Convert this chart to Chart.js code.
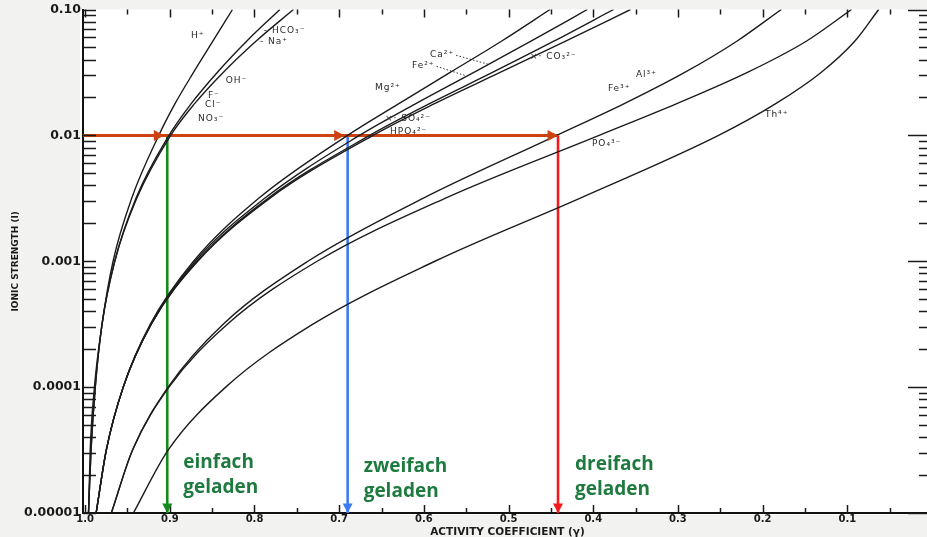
<!DOCTYPE html>
<html><head><meta charset="utf-8">
<script src="https://cdn.jsdelivr.net/npm/chart.js@4/dist/chart.umd.min.js"></script>
<style>
html,body{margin:0;padding:0;background:#f2f2f0;overflow:hidden;width:927px;height:537px}
canvas{display:block}
</style></head><body>
<canvas id="c" width="932" height="537"></canvas>
<script>
// ---- data ----
const ionicStrength = [0.00001, 0.00003162, 0.0001, 0.0003162, 0.001, 0.003162, 0.01, 0.01778, 0.03162, 0.05623, 0.1];
const curveNames = ["H⁺", "HCO₃⁻, Na⁺", "OH⁻, F⁻, Cl⁻, NO₃⁻", "Mg²⁺", "Ca²⁺, Fe²⁺", "CO₃²⁻", "SO₄²⁻, HPO₄²⁻", "Al³⁺, Fe³⁺", "PO₄³⁻", "Th⁴⁺"];
const gammaH     = [0.996, 0.994, 0.989, 0.980, 0.967, 0.945, 0.913, 0.894, 0.872, 0.849, 0.826];
const gammaHCO3  = [0.996, 0.993, 0.988, 0.980, 0.965, 0.940, 0.901, 0.875, 0.844, 0.809, 0.770];
const gammaCl    = [0.996, 0.993, 0.988, 0.980, 0.965, 0.939, 0.899, 0.871, 0.837, 0.798, 0.754];
const gammaMg    = [0.987, 0.975, 0.955, 0.923, 0.872, 0.795, 0.690, 0.630, 0.569, 0.508, 0.451];
const gammaCa    = [0.987, 0.975, 0.955, 0.922, 0.870, 0.788, 0.676, 0.610, 0.541, 0.473, 0.407];
const gammaCO3   = [0.987, 0.975, 0.955, 0.922, 0.868, 0.784, 0.664, 0.594, 0.519, 0.446, 0.376];
const gammaSO4   = [0.987, 0.975, 0.955, 0.922, 0.867, 0.782, 0.660, 0.588, 0.510, 0.432, 0.356];
const gammaAl    = [0.969, 0.944, 0.902, 0.837, 0.737, 0.601, 0.443, 0.364, 0.292, 0.230, 0.178];
const gammaPO4   = [0.969, 0.944, 0.901, 0.832, 0.726, 0.575, 0.393, 0.302, 0.218, 0.148, 0.095];
const gammaTh    = [0.943, 0.902, 0.834, 0.731, 0.587, 0.416, 0.252, 0.185, 0.131, 0.091, 0.063];
const curveGammas = [gammaH, gammaHCO3, gammaCl, gammaMg, gammaCa, gammaCO3, gammaSO4, gammaAl, gammaPO4, gammaTh];

// reading at I = 0.01 for the three charge groups
const refStrength = 0.01;
const arrowGamma = [0.903, 0.690, 0.4416];
const chargeLabels = [["einfach", "geladen"], ["zweifach", "geladen"], ["dreifach", "geladen"]];
const arrowColors = ["#14891c", "#3d7bf2", "#f21a1a"];

// ticks
const xTickValues = [1.0, 0.9, 0.8, 0.7, 0.6, 0.5, 0.4, 0.3, 0.2, 0.1];
const xTickLabels = ["1.0", "0.9", "0.8", "0.7", "0.6", "0.5", "0.4", "0.3", "0.2", "0.1"];
const xMinorTicks = [0.95, 0.85, 0.75, 0.65, 0.55, 0.45, 0.35, 0.25, 0.15, 0.05];
const yTickValues = [0.00001, 0.0001, 0.001, 0.01, 0.1];
const yTickLabels = ["0.00001", "0.0001", "0.001", "0.01", "0.10"];
const yMinorMultipliers = [2, 3, 4, 5, 6, 7, 8, 9];

// ---- datasets ----
const datasets = curveGammas.map((g, k) => ({
  label: curveNames[k],
  data: g.map((v, i) => ({x: v, y: ionicStrength[i]})),
  showLine: true,
  borderColor: '#1c1c1c',
  borderWidth: 1.4,
  pointRadius: 0,
  cubicInterpolationMode: 'monotone',
  fill: false
}));
datasets.push({
  label: 'I = 0.01',
  data: [{x: 1.0025, y: refStrength}, {x: arrowGamma[2], y: refStrength}],
  showLine: true, borderColor: '#cd4210', borderWidth: 3, pointRadius: 0
});
arrowGamma.forEach((g, i) => datasets.push({
  label: chargeLabels[i].join(' '),
  data: [{x: g, y: refStrength}, {x: g, y: 0.00001}],
  showLine: true, borderColor: arrowColors[i], borderWidth: 2.6, pointRadius: 0
}));

const ionLabels = [
  ["H⁺", 0.875, 0.0622], ["- HCO₃⁻", 0.789, 0.0682], ["- Na⁺", 0.7935, 0.0558],
  ["OH⁻", 0.834, 0.0274], ["F⁻", 0.855, 0.0205], ["Cl⁻", 0.8585, 0.0174], ["NO₃⁻", 0.8667, 0.0137],
  ["Ca²⁺", 0.5928, 0.0441, 32], ["Fe²⁺", 0.614, 0.0360, 28], ["Mg²⁺", 0.6578, 0.0241],
  ["×· CO₃²⁻", 0.4748, 0.0425], ["×· SO₄²⁻", 0.646, 0.0137], ["HPO₄²⁻", 0.640, 0.0108],
  ["Al³⁺", 0.3496, 0.0305], ["Fe³⁺", 0.3827, 0.0237], ["PO₄³⁻", 0.4016, 0.00853], ["Th⁴⁺", 0.1973, 0.0147]
];

function tri(ctx, x, y, dir, color, s) {
  ctx.fillStyle = color;
  ctx.beginPath();
  if (dir === 'right') { ctx.moveTo(x, y); ctx.lineTo(x - s * 1.9, y - s); ctx.lineTo(x - s * 1.9, y + s); }
  else { ctx.moveTo(x, y); ctx.lineTo(x - s, y - s * 1.9); ctx.lineTo(x + s, y - s * 1.9); }
  ctx.closePath(); ctx.fill();
}

const decor = {
  id: 'decor',
  beforeDraw(chart) {
    const {ctx, chartArea: a} = chart;
    ctx.save();
    ctx.fillStyle = '#f2f2f0';
    ctx.fillRect(0, 0, chart.width, chart.height);
    ctx.fillStyle = '#ffffff';
    ctx.fillRect(a.left - 3, a.top, a.right - a.left + 3, a.bottom - a.top + 2);
    ctx.restore();
  },
  afterDatasetsDraw(chart) {
    const {ctx, chartArea: a, scales: {x, y}} = chart;
    ctx.save();
    // inner ticks
    ctx.strokeStyle = '#1a1a1a';
    ctx.lineWidth = 1.5;
    const yAll = [];
    yTickValues.forEach(v => yAll.push([v, true]));
    yTickValues.slice(0, -1).forEach(d => yMinorMultipliers.forEach(m => yAll.push([m * d, false])));
    yAll.forEach(([v, major]) => {
      const py = Math.round(y.getPixelForValue(v)) + 0.5;
      ctx.beginPath();
      ctx.moveTo(a.left, py); ctx.lineTo(a.left + 13, py);
      ctx.moveTo(a.right, py); ctx.lineTo(a.right - (major ? 24 : 13), py);
      ctx.stroke();
    });
    const xAll = xTickValues.map(v => [v, true]).concat(xMinorTicks.map(v => [v, false]));
    xAll.forEach(([v, major]) => {
      const px = Math.round(x.getPixelForValue(v)) + 0.5;
      ctx.beginPath();
      ctx.moveTo(px, a.bottom); ctx.lineTo(px, a.bottom - (major ? 8 : 5));
      ctx.moveTo(px, a.top); ctx.lineTo(px, a.top + (major ? 8 : 5));
      ctx.stroke();
    });
    // arrow heads
    const py0 = y.getPixelForValue(refStrength);
    arrowGamma.forEach((g, i) => {
      const px = x.getPixelForValue(g);
      tri(ctx, px - (i < 2 ? 3 : 0), py0, 'right', '#cd4210', 5.5);
      tri(ctx, px, a.bottom, 'down', arrowColors[i], 5);
    });
    // ion labels
    ctx.fillStyle = '#2a2a2a';
    ctx.font = '9px "DejaVu Sans"';
    if ('letterSpacing' in ctx) ctx.letterSpacing = '1px';
    ctx.textBaseline = 'middle';
    ctx.textAlign = 'left';
    ionLabels.forEach(([t, g, I, lead]) => {
      const px = x.getPixelForValue(g), py = y.getPixelForValue(I);
      ctx.fillText(t, px, py);
      if (lead) {
        const w = ctx.measureText(t).width;
        ctx.save();
        ctx.setLineDash([1.5, 2]);
        ctx.strokeStyle = '#333'; ctx.lineWidth = 1;
        ctx.beginPath(); ctx.moveTo(px + w + 2, py + 1); ctx.lineTo(px + w + 2 + lead, py + 10); ctx.stroke();
        ctx.restore();
      }
    });
    if ('letterSpacing' in ctx) ctx.letterSpacing = '0px';
    // charge labels
    ctx.fillStyle = '#1f7a40';
    ctx.font = 'bold 19px "Open Sans"';
    ctx.textBaseline = 'alphabetic';
    const offs = [[16, 45], [16, 41], [17, 43]];
    chargeLabels.forEach((lines, i) => {
      const px = x.getPixelForValue(arrowGamma[i]) + offs[i][0];
      const base = a.bottom - offs[i][1];
      ctx.fillText(lines[0], px, base);
      ctx.fillText(lines[1], px, base + 25);
    });
    ctx.restore();
  }
};

new Chart(document.getElementById('c'), {
  type: 'scatter',
  data: {datasets},
  options: {
    responsive: false,
    animation: false,
    devicePixelRatio: 1,
    layout: {padding: {top: 8, right: 0, bottom: 0, left: 0}},
    plugins: {legend: {display: false}, tooltip: {enabled: false}},
    scales: {
      x: {
        type: 'linear', reverse: true, min: 0, max: 1.0025,
        afterBuildTicks: s => { s.ticks = xTickValues.map(v => ({value: v})); },
        afterFit: s => { s.height = 24; },
        grid: {display: false, drawTicks: false},
        border: {display: true, color: '#111', width: 2},
        ticks: {
          padding: 1, color: '#1a1a1a', autoSkip: false, maxRotation: 0,
          font: {family: 'DejaVu Sans', size: 10, weight: 'bold', lineHeight: 1.0},
          callback: (v) => { const i = xTickValues.findIndex(t => Math.abs(t - v) < 1e-6); return i >= 0 ? xTickLabels[i] : ''; }
        },
        title: {display: true, text: 'ACTIVITY COEFFICIENT (γ)', color: '#1a1a1a', padding: 0,
          font: {family: 'DejaVu Sans', size: 10.5, weight: 'bold', lineHeight: 0.95}}
      },
      y: {
        type: 'logarithmic', min: 0.00001, max: 0.1,
        afterBuildTicks: s => { s.ticks = yTickValues.map(v => ({value: v, major: true})); },
        afterFit: s => { s.width = 83; },
        grid: {display: false, drawTicks: false},
        border: {display: true, color: '#111', width: 2},
        ticks: {
          padding: 2, color: '#1a1a1a', autoSkip: false,
          font: {family: 'DejaVu Sans', size: 12.5, weight: 'bold'},
          callback: (v) => { const i = yTickValues.findIndex(t => Math.abs(Math.log10(t) - Math.log10(v)) < 1e-6); return i >= 0 ? yTickLabels[i] : ''; }
        },
        title: {display: true, text: 'IONIC STRENGTH (I)', color: '#1a1a1a', padding: 10,
          font: {family: 'DejaVu Sans', size: 9, weight: 'bold'}}
      }
    }
  },
  plugins: [decor]
});
</script>
</body></html>
